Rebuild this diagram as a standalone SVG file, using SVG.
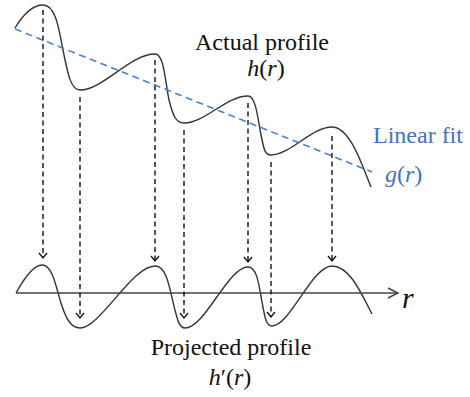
<svg xmlns="http://www.w3.org/2000/svg" width="470" height="397" viewBox="0 0 470 397">
<style>
.lbl{font-family:"Liberation Serif","Times New Roman",serif;font-size:24px;fill:#111}
.blue{fill:#4472c4}
.it{font-style:italic}
.curve{fill:none;stroke:#333;stroke-width:1.4}
.proj{fill:none;stroke:#111;stroke-width:1.4;stroke-dasharray:5,3.5}
.fit{fill:none;stroke:#4a7fd4;stroke-width:1.6;stroke-dasharray:7,4.5}
.axis{fill:none;stroke:#444;stroke-width:1.4}
</style>
<defs>
<marker id="ah" markerUnits="userSpaceOnUse" markerWidth="12" markerHeight="12" refX="6" refY="5" orient="auto">
<path d="M1,1 L6,5 L1,9" transform="rotate(0)" fill="none" stroke="#111" stroke-width="1.3"/>
</marker>
<marker id="axh" markerUnits="userSpaceOnUse" markerWidth="14" markerHeight="14" refX="11" refY="6" orient="auto">
<path d="M1,1 L11,6 L1,11" fill="none" stroke="#444" stroke-width="1.4"/>
</marker>
</defs>
<g id="actual-profile">
<path class="curve" d="M15,28 C24,13 34,5 43,5 C56,5 59,30 63,50 C68,75 71,90 80,90 C103,90 130,54 155,54 C164,54 165,80 169,100 C173,116 176,123 184,123 C205,123 226,96 248,96 C256,96 258,120 261,135 C264,150 265,155 271,155 C290,155 312,127 332,127 C350,127 362,165 371,187"/>
<text class="lbl" x="262" y="50" text-anchor="middle">Actual profile</text>
<text class="lbl" x="266" y="76" text-anchor="middle"><tspan class="it">h</tspan>(<tspan class="it">r</tspan>)</text>
</g>
<g id="linear-fit">
<path class="fit" d="M15,29 L372,172"/>
<text class="lbl blue" x="373" y="143">Linear fit</text>
<text class="lbl blue" x="385" y="182"><tspan class="it">g</tspan>(<tspan class="it">r</tspan>)</text>
</g>
<g id="projected-profile">
<path class="curve" d="M16,293 C26,275 34,265 42,265 C53,265 56,288 61,303 C66,319 71,328 80,328 C100,328 132,266 155,266 C166,266 169,285 173,302 C177,319 179,328 185,328 C205,328 228,267 248,267 C257,267 259,285 262,302 C265,318 266,326 272,326 C290,326 312,266 332,266 C350,266 362,295 372,314"/>
<text class="lbl" x="231" y="355" text-anchor="middle">Projected profile</text>
<text class="lbl" x="230" y="385" text-anchor="middle"><tspan class="it">h</tspan>′(<tspan class="it">r</tspan>)</text>
</g>
<g id="r-axis">
<path class="axis" d="M16,293 L398,293" marker-end="url(#axh)"/>
<text class="lbl it" x="402" y="308" style="font-size:30px">r</text>
</g>
<g id="connectors">
<path class="proj" d="M43,10 L43,258" marker-end="url(#ah)"/>
<path class="proj" d="M80,97 L80,318" marker-end="url(#ah)"/>
<path class="proj" d="M155,60 L155,261" marker-end="url(#ah)"/>
<path class="proj" d="M184,130 L184,318" marker-end="url(#ah)"/>
<path class="proj" d="M248,103 L248,262" marker-end="url(#ah)"/>
<path class="proj" d="M271,162 L271,317" marker-end="url(#ah)"/>
<path class="proj" d="M332,136 L332,261" marker-end="url(#ah)"/>
</g>
</svg>
